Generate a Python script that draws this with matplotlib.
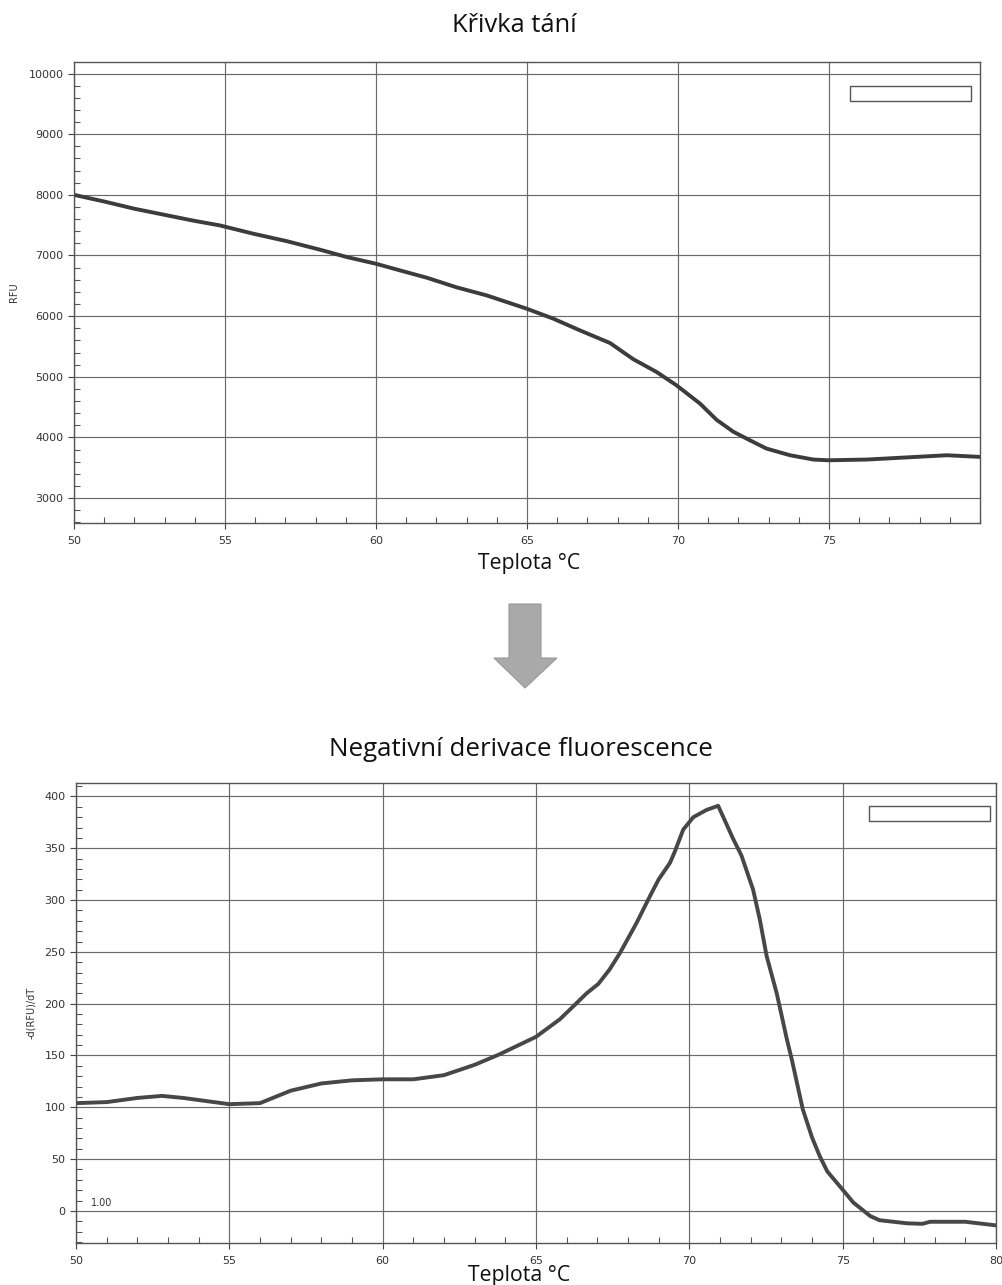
import matplotlib
matplotlib.use('Agg')
import matplotlib.pyplot as plt
from matplotlib.patches import Rectangle, Polygon
from matplotlib.ticker import MultipleLocator

# ---- data: melting curve (temperature °C, RFU) ----
temp_melt = [50, 51, 52, 53, 54, 54.83, 55.94, 57.04, 58.15, 59.03, 59.99,
             60.79, 61.68, 62.67, 63.66, 64.99, 65.87, 66.75, 67.75, 68.52,
             69.29, 69.95, 70.73, 71.28, 71.83, 72.38, 72.93, 73.71, 74.48,
             74.98, 76.25, 77.9, 78.9, 80]
rfu = [8000, 7890, 7771, 7670, 7570, 7496, 7359, 7237, 7095, 6975, 6865,
       6755, 6634, 6475, 6343, 6123, 5959, 5766, 5557, 5290, 5080, 4860,
       4558, 4290, 4095, 3954, 3817, 3707, 3636, 3624, 3636, 3680, 3707, 3680]

# ---- data: negative derivative (temperature °C, -d(RFU)/dT) ----
temp_deriv = [50, 51, 52, 52.8, 53.5, 54, 55, 56, 56.5, 57, 58, 59, 60, 61, 62,
              63, 63.8, 65, 65.78, 66.2, 66.65, 67.03, 67.4, 67.74, 68.28,
              68.72, 69.0, 69.37, 69.53, 69.8, 70.13, 70.56, 70.94, 71.43,
              71.7, 72.08, 72.3, 72.52, 72.85, 73.17, 73.35, 73.7, 74.0, 74.25,
              74.5, 74.9, 75.35, 75.9, 76.2, 77.1, 77.6, 77.85, 79.0, 80]
neg_deriv = [104, 105, 109, 111, 109, 107, 103, 104, 110, 116, 123, 126, 127,
             127, 131, 141, 151, 168, 185, 197, 210, 219, 233, 249, 278, 304,
             320, 336, 347, 368, 380, 387, 391, 359, 343, 310, 281, 246, 210,
             167, 145, 98, 71, 53, 38, 24, 8, -5, -9, -12, -12.5, -10.5, -10.5,
             -14]

top_xticks = [50, 55, 60, 65, 70, 75]
top_yticks = [3000, 4000, 5000, 6000, 7000, 8000, 9000, 10000]
bot_xticks = [50, 55, 60, 65, 70, 75, 80]
bot_yticks = [0, 50, 100, 150, 200, 250, 300, 350, 400]

W, H = 1002, 1285
fig = plt.figure(figsize=(W / 100, H / 100), dpi=100)
renderer = fig.canvas.get_renderer()


def fx(px):
    return px / W


def fy(py):
    return 1 - py / H


line_col = '#3c3c3c'
grid_col = '#6a6a6a'
tick_col = '#333333'


def style(ax):
    ax.grid(True, which='major', color=grid_col, lw=0.85)
    for s in ax.spines.values():
        s.set_color('#555555')
        s.set_linewidth(1.0)
    ax.tick_params(which='major', direction='out', length=4, width=0.8,
                   colors='#444444', labelcolor=tick_col, labelsize=8)
    ax.tick_params(which='minor', direction='in', length=4, width=0.8,
                   colors='#555555')


def fit_text(px, py, s, target_w, **kw):
    t = fig.text(fx(px), fy(py), s, fontsize=10, ha='center', va='center', **kw)
    w = t.get_window_extent(renderer).width
    t.set_fontsize(10 * target_w / w)
    return t


# ---- top axes ----
ax1 = fig.add_axes([fx(74), fy(523), fx(980) - fx(74), fy(62) - fy(523)])
ax1.plot(temp_melt, rfu, color=line_col, lw=2.8, solid_capstyle='round',
         solid_joinstyle='round')
ax1.set_xlim(50, 80)
ax1.set_ylim(2590, 10190)
ax1.set_xticks(top_xticks)
ax1.set_yticks(top_yticks)
ax1.xaxis.set_minor_locator(MultipleLocator(1))
ax1.yaxis.set_minor_locator(MultipleLocator(200))
style(ax1)
ax1.tick_params(axis='x', pad=5)
ax1.set_ylabel('RFU', fontsize=7, color=tick_col, labelpad=7)
ax1.add_patch(Rectangle((0.856, 0.915), 0.134, 0.033, transform=ax1.transAxes,
                        fill=False, ec='#555555', lw=1.0, zorder=5))

# ---- bottom axes ----
ax2 = fig.add_axes([fx(76), fy(1243), fx(996) - fx(76), fy(783) - fy(1243)])
ax2.plot(temp_deriv, neg_deriv, color='#474747', lw=2.8, solid_capstyle='round',
         solid_joinstyle='round')
ax2.set_xlim(50, 80)
ax2.set_ylim(-31, 413)
ax2.set_xticks(bot_xticks)
ax2.set_yticks(bot_yticks)
ax2.xaxis.set_minor_locator(MultipleLocator(1))
ax2.yaxis.set_minor_locator(MultipleLocator(10))
style(ax2)
ax2.tick_params(axis='x', pad=5)
ax2.set_ylabel('-d(RFU)/dT', fontsize=7, color=tick_col, labelpad=6)
ax2.text(50.5, 3, '1.00', fontsize=7, color=tick_col, va='bottom', ha='left')
ax2.add_patch(Rectangle((0.862, 0.917), 0.131, 0.034, transform=ax2.transAxes,
                        fill=False, ec='#555555', lw=1.0, zorder=5))

# ---- titles and labels ----
tfont = dict(family=['Open Sans', 'DejaVu Sans'], color='#111111')
fit_text(514, 26, 'Křivka tání', 125, **tfont)
fit_text(529, 564, 'Teplota °C', 102, **tfont)
fit_text(521, 750, 'Negativní derivace fluorescence', 383, **tfont)
fit_text(519, 1275, 'Teplota °C', 102, **tfont)

# ---- arrow ----
arrow_pts = [(509, 604), (541, 604), (541, 658), (557, 658), (525, 688),
             (494, 658), (509, 658)]
fig.patches.append(Polygon([(fx(x), fy(y)) for x, y in arrow_pts], closed=True,
                           transform=fig.transFigure, fc='#a9a9a9', ec='#9a9a9a',
                           lw=0.8))

fig.savefig('out.png', dpi=100, facecolor='white')
